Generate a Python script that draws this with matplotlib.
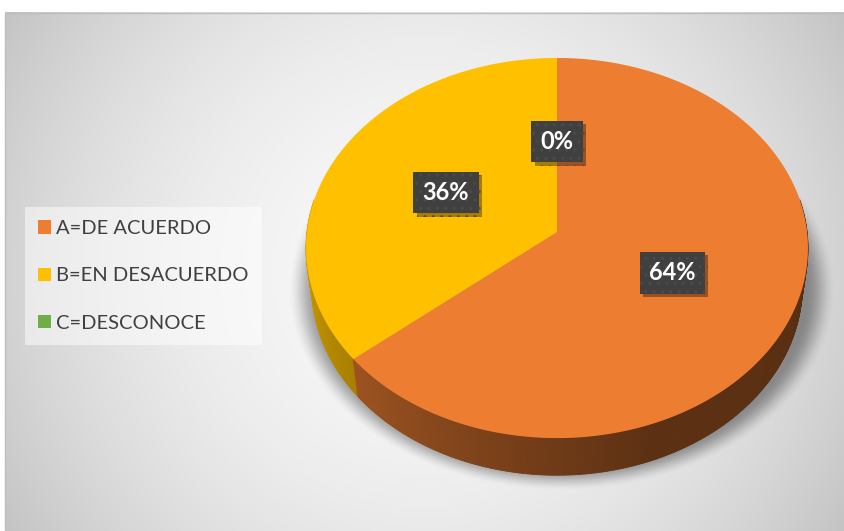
import numpy as np
import matplotlib
matplotlib.use('Agg')
import matplotlib.pyplot as plt
from matplotlib import patheffects as pe
from matplotlib.collections import PolyCollection
from matplotlib.transforms import Transform
from matplotlib.path import Path

# ---- data ----
categories = ['A=DE ACUERDO', 'B=EN DESACUERDO', 'C=DESCONOCE']
values = [64, 36, 0]
colors = ['#ED7D31', '#FFC000', '#70AD47']

W, H, DPI = 845, 531, 100
FONT = 'Lato'
fig = plt.figure(figsize=(W / DPI, H / DPI), dpi=DPI, facecolor='white')

# ---- background with radial gradient ----
bg = fig.add_axes([0, 0, 1, 1])
bg.set_xlim(0, W)
bg.set_ylim(H, 0)
bg.axis('off')
x0, y0, x1, y1 = 5, 12, W, H
xx, yy = np.meshgrid(np.linspace(x0, x1, 300), np.linspace(y0, y1, 200))
cx, cy = (x0 + x1) / 2, (y0 + y1) / 2
d = np.hypot(xx - cx, yy - cy) / np.hypot(x1 - cx, y1 - cy)
g = (248 - 52 * d ** 2) / 255
bg.imshow(np.dstack([g, g, g]), extent=(x0, x1, y1, y0), interpolation='bilinear',
          aspect='auto', zorder=0)
bg.plot([x0 + 0.5, x0 + 0.5, x1], [y1, y0 + 0.5, y0 + 0.5], color='#bdbdbd', lw=1, zorder=1)

# ---- perspective projection of the pie plane ----
PCX, PCY = 557, 232          # pixel position of the pie centre
ALPHA = np.radians(49)        # tilt
SA, CA = np.sin(ALPHA), np.cos(ALPHA)
DIST = 7.79                   # camera distance (in radii)
FOC = 1948                    # focal length (px)
THICK = 0.242                 # pie thickness (in radii)


class Persp(Transform):
    input_dims = output_dims = 2
    is_separable = False
    has_inverse = False

    def __init__(self, h=0.0):
        super().__init__()
        self.h = h

    def transform_non_affine(self, xy):
        xy = np.atleast_2d(np.asarray(xy, float))
        X = xy[:, 0]
        Z = -xy[:, 1]
        zc = DIST - Z * CA + self.h * SA
        u = FOC * X / zc
        v = FOC * (Z * SA + self.h * CA) / zc
        return np.column_stack([u, -v])

    def transform_path_non_affine(self, path):
        pts = []
        for seg, code in path.iter_bezier():
            if code == Path.MOVETO:
                pts.append(np.atleast_2d(seg.control_points[0]))
            else:
                pts.append(seg(np.linspace(0, 1, 40)[1:]))
        v = np.vstack(pts)
        return Path(self.transform_non_affine(v), closed=True)


ax = fig.add_axes([0, 0, 1, 1])
top_tr = Persp(0.0)
bot_tr = Persp(THICK)

# soft shadow (pixel offsets from pie centre, y up)
sx = np.linspace(-PCX, W - PCX, 600)
sy = np.linspace(-(H - PCY), PCY, 400)
SX, SY = np.meshgrid(sx, sy)
s = np.hypot((SX - 5) / 252, (SY + 58) / 185)
tt = np.clip((1.09 - s) / 0.12, 0, 1)
alpha = 0.38 * tt * tt * (3 - 2 * tt)
rgba = np.zeros(SX.shape + (4,))
rgba[..., 3] = alpha
ax.imshow(rgba, extent=(sx[0], sx[-1], sy[0], sy[-1]), origin='lower',
          interpolation='bilinear', aspect='auto', zorder=0)

# side wall
vals = np.array(values, dtype=float)
frac = vals / vals.sum()
cum = np.cumsum(frac)
thetas = np.linspace(170, 370, 401)
polys, fcs = [], []
for t0, t1 in zip(thetas[:-1], thetas[1:]):
    tm = (t0 + t1) / 2
    pos = ((90 - tm) % 360) / 360
    k = min(int(np.searchsorted(cum, pos, side='right')), len(vals) - 1)
    shade = np.interp(tm, [180, 220, 290, 370], [0.82, 0.66, 0.39, 0.37])
    base = np.array(matplotlib.colors.to_rgb(colors[k]))
    r = np.radians([t0, t1])
    circ = np.column_stack([np.cos(r), np.sin(r)])
    tp = top_tr.transform(circ)
    bp = bot_tr.transform(circ)
    polys.append([tp[0], tp[1], bp[1], bp[0]])
    fcs.append(base * shade)
ax.add_collection(PolyCollection(polys, facecolors=fcs, edgecolors=fcs, linewidths=0.6, zorder=1))

# top face
wedges, _ = ax.pie(vals, colors=colors, startangle=90, counterclock=False, radius=1,
                   center=(0, 0), wedgeprops=dict(linewidth=0, zorder=2))
for w in wedges:
    w.set_transform(top_tr + ax.transData)
ax.set_aspect('auto')
ax.set_xlim(-PCX, W - PCX)
ax.set_ylim(-(H - PCY), PCY)
ax.axis('off')

# data labels
starts = np.concatenate([[0], cum[:-1]])
mids = np.radians(90 - 360 * (starts + frac / 2))
for v, m in zip(vals, mids):
    lab = f'{v / vals.sum() * 100:.0f}%'
    t = ax.text(0.5 * np.cos(m), 0.5 * np.sin(m), lab, transform=top_tr + ax.transData,
                ha='center', va='center', fontsize=17, fontweight='bold', color='white',
                family=FONT, zorder=6,
                bbox=dict(boxstyle='square,pad=0.4', fc='#404040', ec='#4b4b4b', lw=0,
                          hatch='..'))
    t.get_bbox_patch().set_path_effects([
        pe.SimplePatchShadow(offset=(2.5, -2.5), shadow_rgbFace='black', alpha=0.35),
        pe.Normal()])

# legend
leg = fig.legend(wedges, categories, loc='upper left', bbox_to_anchor=(25 / W, 1 - 207 / H),
                 frameon=True, fancybox=False, framealpha=0.5, facecolor='white',
                 edgecolor='none', prop=dict(family=FONT, size=14.5),
                 handlelength=0.65, handleheight=0.65, handletextpad=0.25,
                 labelspacing=1.5, borderpad=0.65, borderaxespad=0)
for txt in leg.get_texts():
    txt.set_color('#404040')

fig.savefig('out.png', dpi=DPI, facecolor='white')
